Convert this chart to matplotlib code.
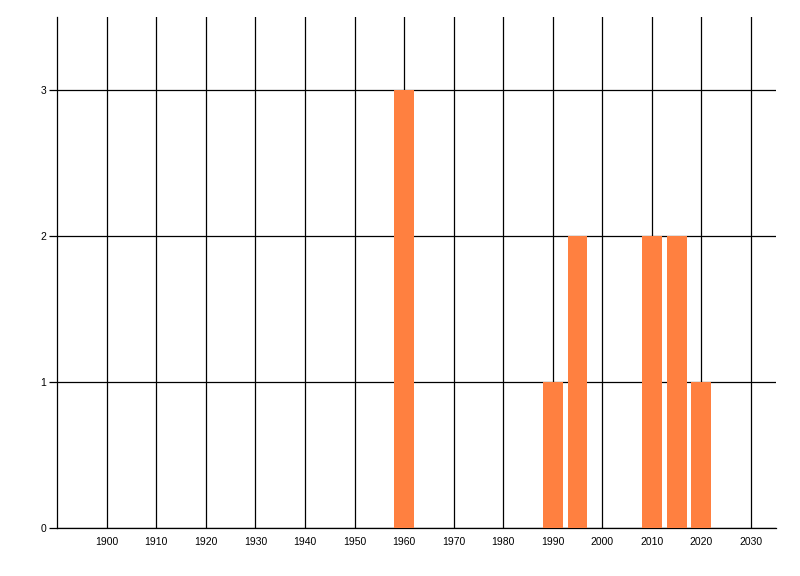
import matplotlib
matplotlib.use('Agg')
import matplotlib.pyplot as plt

years = [1960, 1990, 1995, 2010, 2015, 2020]
counts = [3, 1, 2, 2, 2, 1]
xticks = list(range(1900, 2031, 10))
yticks = [0, 1, 2, 3]

plt.rcParams['font.family'] = ['Liberation Sans', 'DejaVu Sans']

fig = plt.figure(figsize=(8, 5.76), dpi=100)
ax = fig.add_axes([57.3 / 800, (576 - 528.3) / 576, (775.7 - 57.3) / 800, (528.3 - 17) / 576])

ax.bar(years, counts, width=4, color='#ff8040', zorder=3)

ax.set_xlim(1890, 2035)
ax.set_ylim(0, 3.5)
ax.set_xticks(xticks)
ax.set_yticks(yticks)

ax.grid(True, color='black', linewidth=0.9, zorder=1)
ax.set_axisbelow(True)

for s in ['top', 'right']:
    ax.spines[s].set_visible(False)
for s in ['left', 'bottom']:
    ax.spines[s].set_linewidth(0.9)

ax.tick_params(axis='x', length=0, pad=6, labelsize=7.5)
ax.tick_params(axis='y', length=6, width=0.9, pad=2, labelsize=7.5)

fig.savefig('out.png', dpi=100)
